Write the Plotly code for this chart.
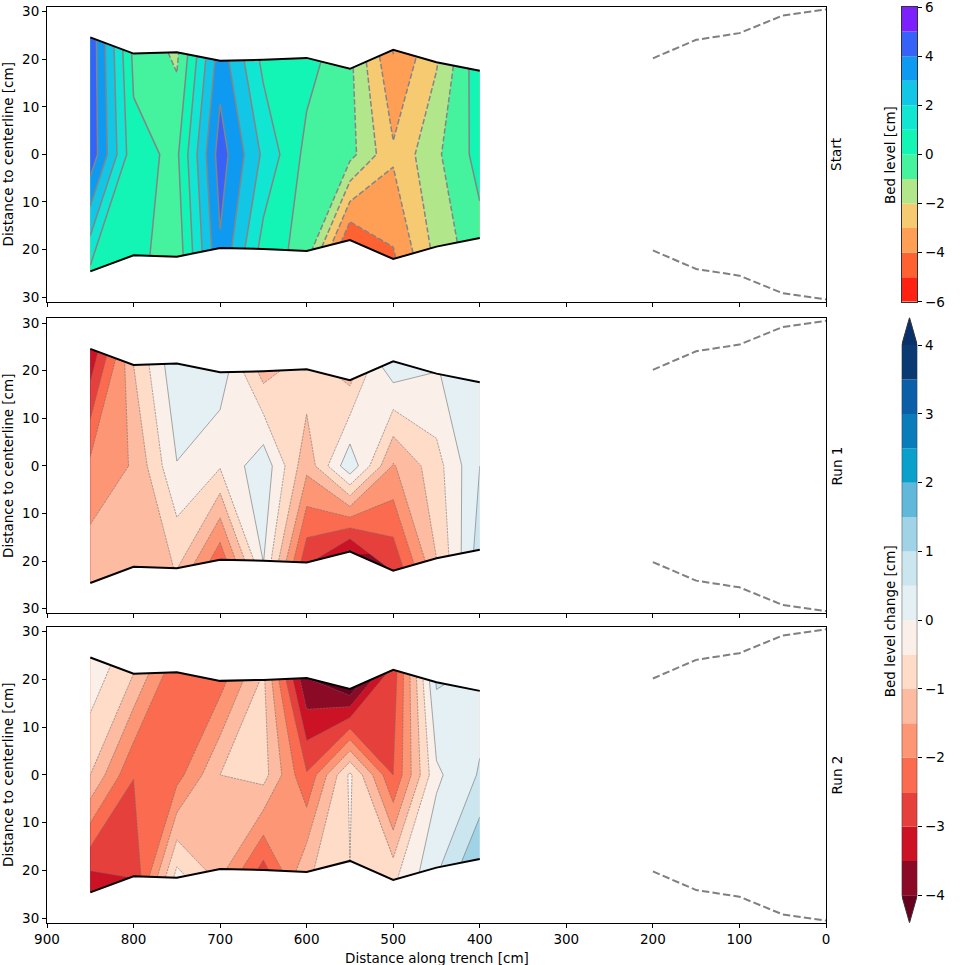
import plotly.graph_objects as go

# cross-sections along the trench [cm]
dist = [850, 800, 750, 700, 650, 600, 550, 500, 450, 400]
half_width = [24.6, 21.2, 21.5, 19.7, 19.9, 20.3, 18.0, 22.0, 19.4, 17.6]

# flume wall further downstream
wall_dist = [200, 150, 100, 50, 0]
wall_half = [20.2, 24.1, 25.5, 29.2, 30.5]

# bed level [cm] at lower bank / centerline / upper bank
start_low = [0.8, 0.4, -0.66, 3.88, 0.6, -0.45, -4.9, -4.15, -1.65, -0.3]
start_mid = [4.75, 0.29, -0.19, 4.5, 1.8, -0.3, -0.67, -2.84, -1.18, 0.38]
start_high = [4.7, -0.22, -1.2, 3.57, 0.73, 0.37, -0.75, -4.05, -2.09, 0.7]

# bed level change [cm] after run 1
run1_low = [-1.12, -1.25, -0.98, -2.35, 0.02, -2.9, -3.6, -2.95, -1.0, 0.75]
run1_mid = [-1.88, -1.45, -0.02, -0.45, 0.35, -1.35, 0.38, -1.55, -0.7, 0.5]
run1_high = [-3.44, -1.0, 0.4, 0.3, -1.2, -0.7, -1.1, 0.4, -0.03, 0.3]

# bed level change [cm] after run 2
run2_low = [-3.45, -2.96, -0.3, -1.3, -2.7, -1.1, -0.5, -0.6, 0.4, 1.45]
run2_mid = [-1.0, -2.48, -2.2, -1.0, -0.8, -2.45, -0.4, -2.5, -0.1, 0.55]
run2_high = [-0.05, -1.0, -2.4, -2.2, -0.9, -4.0, -4.3, -2.8, 0.55, 0.3]

start_levels = list(range(-6, 7))
change_levels = [v * 0.5 for v in range(-8, 9)]

start_colors = ['#ff2212', '#ff6232', '#ff9e55', '#f6ca70', '#b2e68a', '#45f29e',
                '#12f5b5', '#10e6d2', '#12c6e6', '#0f9af2', '#3662f8', '#7d20fe']
change_colors = ['#8b0a25', '#cc1326', '#e6403c', '#fb6b50', '#fc9674', '#fdbca2',
                 '#fedcc8', '#fbefe9', '#e5f0f4', '#cce6f0', '#a0d3e6', '#60b8da',
                 '#0aa0cc', '#0b7cbb', '#0a5fa8', '#0b3a72']
change_under = '#67001f'
change_over = '#08306b'

rows = [-1, 0, 1]
FONT = dict(family='DejaVu Sans', size=13.5, color='black')

W, H = 962, 965
ML, MR, MT, MB = 47, 10, 0, 42.3
PW, PH = W - ML - MR, H - MT - MB


def px(x):
    return (x - ML) / PW


def py(y):
    return 1 - (y - MT) / PH


def dom(y0, y1):
    return [max(0.0, py(y1)), min(1.0, py(y0))]


panel_px = [(7, 301.7), (318.3, 613.3), (626.7, 922.7)]


def stepped_scale(colors):
    n = len(colors) - 1
    scale = []
    for k, c in enumerate(colors):
        scale.append([max(0.0, (k - 0.5) / n), c])
        scale.append([min(1.0, (k + 0.5) / n), c])
    return scale


def grid():
    a, b, x, y = [], [], [], []
    for i in range(len(dist)):
        for f in rows:
            a.append(i)
            b.append(f)
            x.append(dist[i])
            y.append(f * half_width[i])
    return a, b, x, y


def flatten(low, mid, high):
    z = []
    for i in range(len(dist)):
        z += [low[i], mid[i], high[i]]
    return z


def add_panel(traces, n, low, mid, high, levels, colors, line_color, line_width, dash):
    xa, ya = ('x', 'y') if n == 1 else ('x%d' % n, 'y%d' % n)
    cid = 'trench%d' % n
    a, b, x, y = grid()
    z = flatten(low, mid, high)
    hidden = dict(showgrid=False, showline=False, startline=False, endline=False,
                  showticklabels='none', minorgridcount=0, smoothing=0)
    traces.append(go.Carpet(a=a, b=b, x=x, y=y, carpet=cid, xaxis=xa, yaxis=ya,
                            aaxis=hidden, baxis=hidden))
    step = levels[1] - levels[0]
    traces.append(go.Contourcarpet(
        a=a, b=b, z=z, carpet=cid, xaxis=xa, yaxis=ya, autocontour=False,
        contours=dict(start=levels[0], end=levels[-1], size=step, coloring='fill', showlines=False),
        colorscale=stepped_scale(colors), showscale=False, line=dict(width=0, smoothing=0)))
    neg = [v for v in levels if v < 0]
    pos = [v for v in levels if v >= 0]
    for lv, d in ((neg, dash), (pos, 'solid')):
        traces.append(go.Contourcarpet(
            a=a, b=b, z=z, carpet=cid, xaxis=xa, yaxis=ya, autocontour=False,
            contours=dict(start=lv[0], end=lv[-1], size=step, coloring='none'),
            showscale=False, line=dict(color=line_color, width=line_width, dash=d, smoothing=0)))
    for sign in (1, -1):
        traces.append(go.Scatter(x=dist, y=[sign * w for w in half_width], mode='lines',
                                 line=dict(color='black', width=2), xaxis=xa, yaxis=ya,
                                 showlegend=False, hoverinfo='skip'))
        traces.append(go.Scatter(x=wall_dist, y=[sign * w for w in wall_half], mode='lines',
                                 line=dict(color='#808080', width=2, dash='7.4px,3.2px'),
                                 xaxis=xa, yaxis=ya, showlegend=False, hoverinfo='skip'))


def add_colorbar(traces, n, levels, colors, under=None, over=None):
    xa, ya = 'x%d' % n, 'y%d' % n
    step = levels[1] - levels[0]
    traces.append(go.Bar(x=[0] * len(colors), y=[step] * len(colors), base=levels[:-1],
                         width=1, marker=dict(color=colors, line=dict(width=0)),
                         xaxis=xa, yaxis=ya, showlegend=False, hoverinfo='skip'))
    if under is None:
        return
    ext = 0.05 * (levels[-1] - levels[0])
    lo, hi = levels[0], levels[-1]
    traces.append(go.Scatter(x=[-0.5, 0.5, 0, -0.5], y=[hi, hi, hi + ext, hi], fill='toself',
                             fillcolor=over, mode='lines', line=dict(width=0),
                             xaxis=xa, yaxis=ya, showlegend=False, hoverinfo='skip'))
    traces.append(go.Scatter(x=[-0.5, 0.5, 0, -0.5], y=[lo, lo, lo - ext, lo], fill='toself',
                             fillcolor=under, mode='lines', line=dict(width=0),
                             xaxis=xa, yaxis=ya, showlegend=False, hoverinfo='skip'))
    traces.append(go.Scatter(x=[-0.5, -0.5, 0, 0.5, 0.5, 0, -0.5],
                             y=[lo, hi, hi + ext, hi, lo, lo - ext, lo], mode='lines',
                             line=dict(color='#333333', width=1), cliponaxis=False,
                             xaxis=xa, yaxis=ya, showlegend=False, hoverinfo='skip'))


def label(text, x, y, angle=0):
    return dict(text=text, x=px(x), y=py(y), xref='paper', yref='paper', textangle=angle,
                showarrow=False, xanchor='center', yanchor='middle')


def run():
    traces = []
    start_scale = [start_colors[0]] + start_colors + [start_colors[-1]]
    change_scale = [change_under] + change_colors + [change_over]
    add_panel(traces, 1, start_low, start_mid, start_high, start_levels, start_scale,
              '#858585', 1.5, '5.5px,2.4px')
    add_panel(traces, 2, run1_low, run1_mid, run1_high, change_levels, change_scale,
              '#6e6e6e', 0.6, '2.2px,1px')
    add_panel(traces, 3, run2_low, run2_mid, run2_high, change_levels, change_scale,
              '#6e6e6e', 0.6, '2.2px,1px')
    add_colorbar(traces, 4, start_levels, start_colors)
    add_colorbar(traces, 5, change_levels, change_colors, change_under, change_over)

    fig = go.Figure(traces)
    layout = dict(width=W, height=H, margin=dict(l=ML, r=MR, t=MT, b=MB, autoexpand=False),
                  plot_bgcolor='white', paper_bgcolor='white', font=FONT, showlegend=False)
    frame = dict(showline=True, mirror=True, linecolor='black', linewidth=1, showgrid=False,
                 zeroline=False, ticks='outside', ticklen=4, tickwidth=1, tickcolor='black',
                 ticklabeloverflow='allow')
    annotations = []
    for n, (top, bot) in enumerate(panel_px, start=1):
        sx = '' if n == 1 else str(n)
        layout['xaxis' + sx] = dict(frame, domain=[0, px(826)], range=[900, 0], anchor='y' + sx,
                                    tickvals=list(range(0, 1000, 100)), showticklabels=(n == 3))
        layout['yaxis' + sx] = dict(frame, domain=dom(top, bot), range=[-31, 31],
                                    anchor='x' + sx, tickvals=list(range(-30, 40, 10)),
                                    ticktext=[str(abs(v)) for v in range(-30, 40, 10)])
        mid_y = (top + bot) / 2
        annotations.append(label('Distance to centerline [cm]', 8, mid_y, -90))
        annotations.append(label(['Start', 'Run 1', 'Run 2'][n - 1], 836.5, mid_y, -90))
    annotations.append(label('Distance along trench [cm]', 436.5, 957.5))
    annotations.append(label('Bed level [cm]', 890, 155, -90))
    annotations.append(label('Bed level change [cm]', 890, 621, -90))

    bar_x = [px(901.7), px(917.3)]
    layout['xaxis4'] = dict(domain=bar_x, range=[-0.5, 0.5], anchor='y4', showline=True,
                            mirror=True, linecolor='#333333', linewidth=1, showgrid=False,
                            zeroline=False, showticklabels=False, ticks='')
    layout['yaxis4'] = dict(frame, domain=dom(7, 301.7), range=[-6, 6], anchor='x4',
                            side='right', tickvals=start_levels[::2], linecolor='#333333')
    layout['xaxis5'] = dict(domain=bar_x, range=[-0.5, 0.5], anchor='y5', visible=False)
    layout['yaxis5'] = dict(domain=dom(317.5, 922.5), range=[-4.4, 4.4], anchor='x5',
                            side='right', showline=False, showgrid=False, zeroline=False,
                            ticks='outside', ticklen=4, tickwidth=1, tickcolor='black',
                            tickvals=list(range(-4, 5)), ticklabeloverflow='allow')
    layout['annotations'] = annotations
    fig.update_layout(**layout)
    # drop the default 8px body margin so the figure sits at the page origin
    fig.write_html('out.html', config={'displayModeBar': False},
                   post_script="document.body.style.margin='0';")


if __name__ == '__main__':
    run()
